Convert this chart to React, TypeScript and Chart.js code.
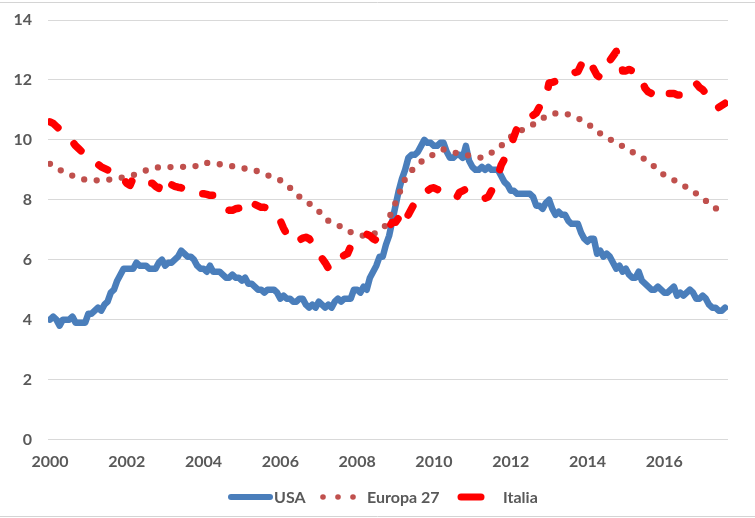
import { useEffect, useRef } from "react";
import { Chart, registerables } from "chart.js";

Chart.register(...registerables);

const START_YEAR = 2000;
const xTickYears = [2000, 2002, 2004, 2006, 2008, 2010, 2012, 2014, 2016];
const seriesNames = ["USA", "Europa 27", "Italia"];

// Monthly, Jan 2000 - Aug 2017
const usaMonthly = [
  4.0, 4.1, 4.0, 3.8, 4.0, 4.0, 4.0, 4.1, 3.9, 3.9, 3.9, 3.9,
  4.2, 4.2, 4.3, 4.4, 4.3, 4.5, 4.6, 4.9, 5.0, 5.3, 5.5, 5.7,
  5.7, 5.7, 5.7, 5.9, 5.8, 5.8, 5.8, 5.7, 5.7, 5.7, 5.9, 6.0,
  5.8, 5.9, 5.9, 6.0, 6.1, 6.3, 6.2, 6.1, 6.1, 6.0, 5.8, 5.7,
  5.7, 5.6, 5.8, 5.6, 5.6, 5.6, 5.5, 5.4, 5.4, 5.5, 5.4, 5.4,
  5.3, 5.4, 5.2, 5.2, 5.1, 5.0, 5.0, 4.9, 5.0, 5.0, 5.0, 4.9,
  4.7, 4.8, 4.7, 4.7, 4.6, 4.6, 4.7, 4.7, 4.5, 4.4, 4.5, 4.4,
  4.6, 4.5, 4.4, 4.5, 4.4, 4.6, 4.7, 4.6, 4.7, 4.7, 4.7, 5.0,
  5.0, 4.9, 5.1, 5.0, 5.4, 5.6, 5.8, 6.1, 6.1, 6.5, 6.8, 7.3,
  7.8, 8.3, 8.7, 9.0, 9.4, 9.5, 9.5, 9.6, 9.8, 10.0, 9.9, 9.9,
  9.8, 9.8, 9.9, 9.9, 9.6, 9.4, 9.4, 9.5, 9.5, 9.4, 9.8, 9.3,
  9.1, 9.0, 9.0, 9.1, 9.0, 9.1, 9.0, 9.0, 9.0, 8.8, 8.6, 8.5,
  8.3, 8.3, 8.2, 8.2, 8.2, 8.2, 8.2, 8.1, 7.8, 7.8, 7.7, 7.9,
  8.0, 7.7, 7.5, 7.6, 7.5, 7.5, 7.3, 7.2, 7.2, 7.2, 6.9, 6.7,
  6.6, 6.7, 6.7, 6.2, 6.3, 6.1, 6.2, 6.1, 5.9, 5.7, 5.8, 5.6,
  5.7, 5.5, 5.4, 5.4, 5.6, 5.3, 5.2, 5.1, 5.0, 5.0, 5.1, 5.0,
  4.9, 4.9, 5.0, 5.1, 4.8, 4.9, 4.8, 4.9, 5.0, 4.9, 4.7, 4.7,
  4.8, 4.7, 4.5, 4.4, 4.4, 4.3, 4.3, 4.4,
];

// Quarterly, 2000 Q1 - 2017 Q3
const europa27Quarterly = [
  9.2, 9.0, 8.85, 8.72,
  8.65, 8.65, 8.67, 8.7,
  8.78, 8.85, 8.98, 9.08,
  9.08, 9.1, 9.1, 9.1,
  9.25, 9.2, 9.18, 9.12,
  9.05, 9.03, 8.9, 8.78,
  8.65, 8.4, 8.1, 7.88,
  7.62, 7.3, 7.16, 6.96,
  6.84, 6.78, 6.9, 7.15,
  7.9, 8.7, 9.1, 9.35,
  9.52, 9.68, 9.58, 9.53,
  9.45, 9.4, 9.57, 9.8,
  10.1, 10.3, 10.45, 10.65,
  10.85, 10.9, 10.85, 10.72,
  10.55, 10.28, 10.08, 9.9,
  9.73, 9.53, 9.35, 9.1,
  8.82, 8.66, 8.48, 8.28,
  8.06, 7.78, 7.6,
];

// Monthly, Jan 2000 - Aug 2017
const italiaMonthly = [
  10.6, 10.55, 10.45, 10.35, 10.25, 10.2, 10.1, 9.95, 9.8, 9.7, 9.6, 9.55,
  9.45, 9.35, 9.25, 9.18, 9.1, 9.05, 9.0, 8.95, 8.9, 8.87, 8.85, 8.7,
  8.55, 8.48, 8.72, 8.7, 8.65, 8.6, 8.55, 8.55, 8.55, 8.45, 8.38, 8.75,
  8.7, 8.6, 8.5, 8.45, 8.42, 8.4, 8.35, 8.3, 8.22, 8.2, 8.18, 8.2,
  8.2, 8.18, 8.15, 8.15, 8.0, 7.9, 7.75, 7.68, 7.65, 7.65, 7.7, 7.72,
  7.72, 7.98, 7.9, 7.88, 7.85, 7.8, 7.75, 7.75, 7.7, 7.6, 7.5, 7.48,
  7.3, 7.05, 6.85, 6.75, 6.7, 6.55, 6.65, 6.72, 6.75, 6.7, 6.55, 6.35,
  6.2, 6.05, 5.9, 5.72, 6.0, 6.05, 6.1, 6.1, 6.15, 6.2, 6.45, 6.55,
  6.65, 6.7, 6.8, 6.85, 6.8, 6.7, 6.65, 6.7, 6.85, 6.95, 7.1, 7.25,
  7.25, 7.4, 7.58, 7.3, 7.5, 7.7, 7.9, 8.05, 8.1, 8.2, 8.3, 8.38,
  8.4, 8.35, 8.3, 8.25, 8.2, 8.15, 8.1, 8.05, 8.25, 8.3, 8.35, 8.3,
  8.25, 8.2, 8.15, 8.1, 8.05, 8.1, 8.3, 8.48, 8.8, 9.15, 9.35, 9.58,
  9.8, 10.1, 10.4, 10.5, 10.55, 10.7, 10.75, 10.82, 10.9, 11.1, 11.2, 11.42,
  11.9, 11.92, 11.95, 12.0, 12.1, 12.15, 12.2, 12.25, 12.25, 12.28, 12.5, 12.75,
  12.7, 12.55, 12.35, 12.15, 12.08, 12.3, 12.58, 12.65, 12.8, 12.95, 12.98, 12.3,
  12.3, 12.35, 12.3, 12.25, 12.25, 12.0, 11.72, 11.6, 11.55, 11.5, 11.48, 11.55,
  11.68, 11.55, 11.55, 11.55, 11.5, 11.5, 11.48, 11.55, 11.7, 11.8, 11.88, 11.75,
  11.68, 11.55, 11.4, 11.25, 11.1, 11.08, 11.15, 11.22,
];

const COLOR_USA = "#4A7EBB";
const COLOR_EU = "#C0504D";
const COLOR_IT = "#FF0000";
const TEXT_COLOR = "#595959";
const FONT_FAMILY = "Lato, 'Open Sans', sans-serif";

function toPoints(values: number[], perYear: number) {
  return values.map((v, i) => ({ x: START_YEAR + i / perYear, y: v }));
}

const frameAndLegend = {
  id: "frameAndLegend",
  beforeDraw(chart: any) {
    const ctx = chart.ctx;
    ctx.save();
    ctx.fillStyle = "#ffffff";
    ctx.fillRect(0, 0, chart.width, chart.height);
    ctx.strokeStyle = "#d4d4d4";
    ctx.lineWidth = 1;
    ctx.beginPath();
    ctx.moveTo(0, 2.5);
    ctx.lineTo(chart.width, 2.5);
    ctx.moveTo(0, 516.5);
    ctx.lineTo(chart.width, 516.5);
    ctx.stroke();
    ctx.restore();
  },
  afterDraw(chart: any) {
    const ctx = chart.ctx;
    const y = 497;
    ctx.save();
    ctx.font = `bold 16px ${FONT_FAMILY}`;
    ctx.fillStyle = TEXT_COLOR;
    ctx.textBaseline = "middle";
    ctx.textAlign = "left";
    ctx.lineCap = "round";

    // USA sample
    ctx.strokeStyle = COLOR_USA;
    ctx.lineWidth = 6;
    ctx.beginPath();
    ctx.moveTo(231, y);
    ctx.lineTo(270, y);
    ctx.stroke();
    ctx.fillText(seriesNames[0], 274, y + 1);

    // Europa 27 sample
    ctx.fillStyle = COLOR_EU;
    [323, 338, 353].forEach((cx) => {
      ctx.beginPath();
      ctx.arc(cx, y, 2.8, 0, Math.PI * 2);
      ctx.fill();
    });
    ctx.fillStyle = TEXT_COLOR;
    ctx.fillText(seriesNames[1], 367, y + 1);

    // Italia sample
    ctx.strokeStyle = COLOR_IT;
    ctx.lineWidth = 7;
    ctx.beginPath();
    ctx.moveTo(461, y);
    ctx.lineTo(481, y);
    ctx.stroke();
    ctx.fillText(seriesNames[2], 503, y + 1);
    ctx.restore();
  },
};

export default function App() {
  const canvasRef = useRef<HTMLCanvasElement | null>(null);

  useEffect(() => {
    document.body.style.margin = "0";
    const canvas = canvasRef.current;
    if (!canvas) return;

    const chart = new Chart(canvas, {
      type: "line",
      data: {
        datasets: [
          {
            label: seriesNames[0],
            data: toPoints(usaMonthly, 12),
            borderColor: COLOR_USA,
            borderWidth: 6.5,
            borderJoinStyle: "round",
            borderCapStyle: "round",
            pointRadius: 0,
            tension: 0,
            order: 3,
          },
          {
            label: seriesNames[1],
            data: toPoints(europa27Quarterly, 4),
            borderColor: COLOR_EU,
            borderWidth: 6.3,
            borderDash: [0, 12.6],
            borderCapStyle: "round",
            borderJoinStyle: "round",
            pointRadius: 0,
            tension: 0,
            order: 2,
          },
          {
            label: seriesNames[2],
            data: toPoints(italiaMonthly, 12),
            borderColor: COLOR_IT,
            borderWidth: 7.5,
            borderDash: [10, 23],
            borderCapStyle: "round",
            borderJoinStyle: "round",
            pointRadius: 0,
            tension: 0,
            order: 1,
          },
        ],
      } as any,
      options: {
        animation: false,
        responsive: false,
        devicePixelRatio: 1,
        layout: { padding: { left: 0, right: 27, top: 20, bottom: 46.5 } },
        plugins: {
          legend: { display: false },
          tooltip: { enabled: false },
        },
        scales: {
          x: {
            type: "linear",
            min: 1999.948,
            max: 2017.66,
            grid: { display: false, drawTicks: false },
            border: { display: false },
            afterBuildTicks: (scale: any) => {
              scale.ticks = xTickYears.map((v) => ({ value: v }));
            },
            afterFit: (scale: any) => {
              scale.height = 32;
            },
            ticks: {
              padding: 13,
              maxRotation: 0,
              autoSkip: false,
              color: TEXT_COLOR,
              font: { family: FONT_FAMILY, size: 16, weight: "bold" },
              callback: (v: any) => String(v),
            },
          },
          y: {
            min: 0,
            max: 14,
            afterFit: (scale: any) => {
              scale.width = 48;
              scale.paddingTop = 10;
              scale.paddingBottom = 10;
            },
            grid: { color: "#d9d9d9", lineWidth: 1, drawTicks: false },
            border: { display: false },
            ticks: {
              stepSize: 2,
              padding: 16,
              color: TEXT_COLOR,
              font: { family: FONT_FAMILY, size: 16, weight: "bold" },
            },
          },
        },
      } as any,
      plugins: [frameAndLegend],
    });

    return () => chart.destroy();
  }, []);

  return (
    <div style={{ width: 755, height: 518 }}>
      <canvas ref={canvasRef} width={755} height={518} />
    </div>
  );
}
